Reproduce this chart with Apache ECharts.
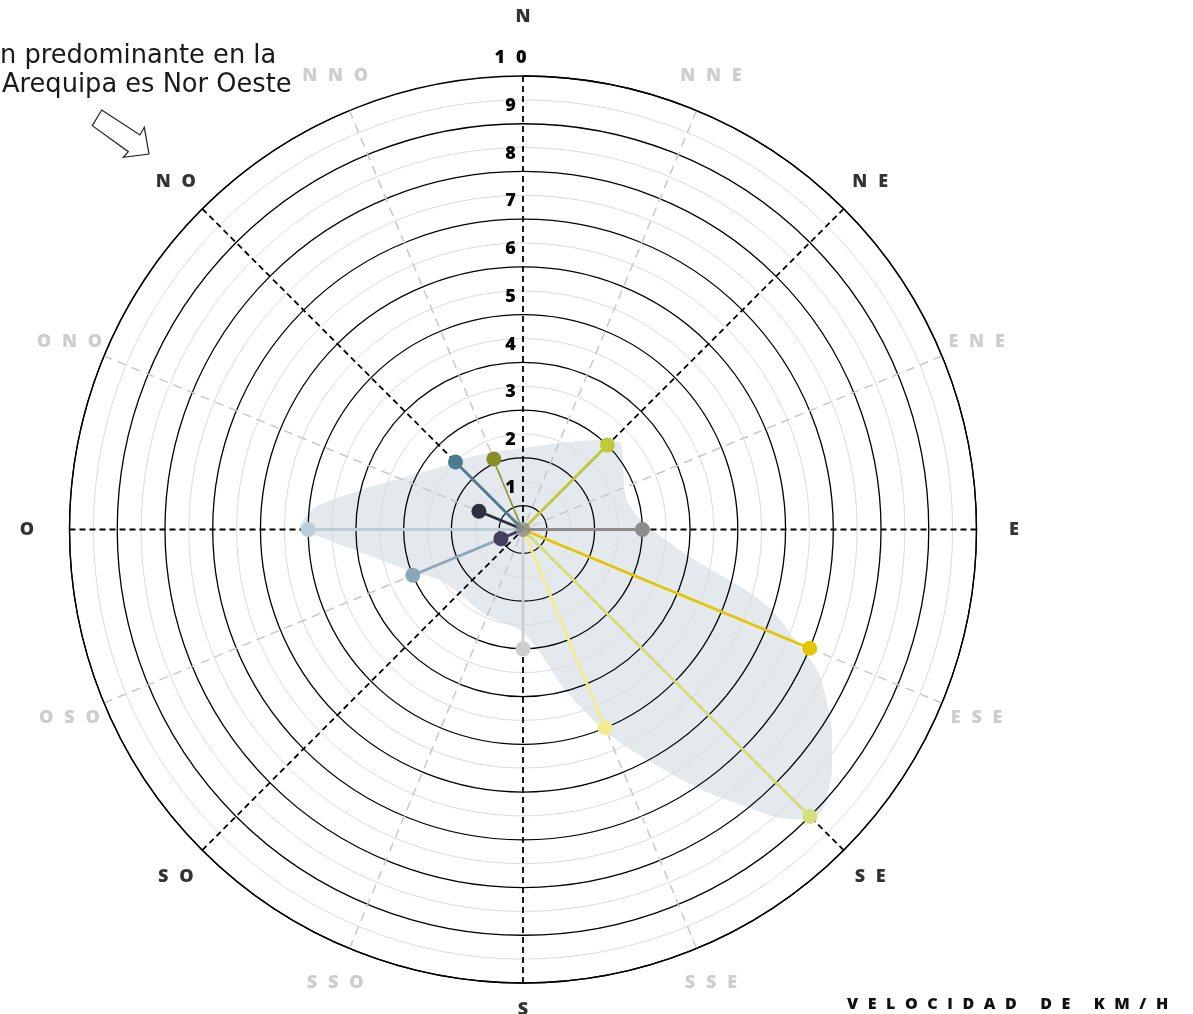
<!DOCTYPE html>
<html>
<head>
<meta charset="utf-8">
<script src="https://cdn.jsdelivr.net/npm/echarts@6/dist/echarts.min.js"></script>
<style>
html,body{margin:0;padding:0;background:#fff;}
#chart{width:1193px;height:1014px;}
</style>
</head>
<body>
<div id="chart"></div>
<script>
// ---------------- DATA ----------------
const directions = ['N','NNE','NE','ENE','E','ESE','SE','SSE','S','SSO','SO','OSO','O','ONO','NO','NNO'];
const mainDirections = ['N','NE','E','SE','S','SO','O','NO'];
const speedRange = [0.5, 10];            // radius axis (km/h)
const speedTicks = [1,2,3,4,5,6,7,8,9,10];

// one ray per measurement: direction + speed (km/h)
const rayDirections = ['NE','E','ESE','SE','SSE','S','OSO','OSO','O','ONO','NO','NNO'];
const raySpeeds     = [3.0, 3.0, 7.0, 9.0, 5.0, 3.0, 3.0, 1.0, 5.0, 1.5, 2.5, 2.1];

// shaded envelope (bearing in degrees clockwise from N, speed km/h)
const blobBearings = [4.9, 28.2, 42.5, 48.3, 55.2, 67.2, 75.3, 83.8, 90.2, 100.7, 105.6, 108.5, 113.0, 115.5,
  119.7, 123.9, 127.9, 130.8, 133.2, 135.2, 137.3, 141.1, 146.0, 151.7, 156.6, 160.3, 165.8, 169.8, 175.0,
  181.7, 194.1, 207.8, 224.3, 238.7, 248.9, 258.0, 264.3, 267.9, 269.9, 275.6, 280.1, 287.6, 296.4, 310.3,
  323.8, 343.7, 364.9];
const blobSpeeds = [2.23, 2.58, 3.04, 3.22, 3.05, 2.80, 2.77, 2.92, 3.20, 4.27, 5.44, 6.07, 6.80, 7.33,
  7.83, 8.30, 8.70, 8.94, 9.09, 9.04, 8.75, 7.97, 7.01, 5.98, 5.24, 4.67, 3.90, 3.34, 2.89,
  2.61, 2.48, 2.43, 2.39, 2.54, 2.97, 3.56, 4.21, 4.75, 5.19, 4.92, 4.39, 3.64, 3.07, 2.59,
  2.38, 2.21, 2.23];

const annotationLines = ['n predominante en la', 'Arequipa es Nor Oeste'];
const axisTitle = 'VELOCIDAD DE KM/H';

// ---------------- STYLE ----------------
const rayColors = ['#BFCB35','#8C8C8C','#E3C500','#D5DF7C','#F6EA91','#CFCDCF',
                   '#8BA8BA','#43405E','#BACDD9','#2B3143','#4E7B90','#878F29'];
const centerColor = '#8C8C8C';
const blobColor = '#E3E9ED';
const FONT = '"Open Sans", sans-serif';
const SEP = '\u2002\u200A';
const spaced = s => s.split('').join(SEP);
const CENTER = [523, 529.5];
const RADIUS = 453.5;
const LABEL_R = 10.785;   // label ring just outside the grid
const labelOffsets = { N: [0, -22], S: [0, -11], O: [-5, 0] };

const series = [];

// shaded envelope on the full-circle polar (value angle axis)
series.push({
  type: 'line', coordinateSystem: 'polar', polarIndex: 1, z: 0,
  smooth: 0.35, symbol: 'none', silent: true,
  lineStyle: { width: 0 },
  areaStyle: { color: blobColor, opacity: 1 },
  data: blobBearings.map((b, i) => [blobSpeeds[i], b])
});

rayDirections.forEach((d, i) => {
  series.push({
    type: 'line', coordinateSystem: 'polar', polarIndex: 0, z: 3,
    symbol: 'circle', symbolSize: 15,
    lineStyle: { color: rayColors[i], width: 2.8 },
    itemStyle: { color: rayColors[i] },
    data: [{ value: [speedRange[0], d], symbol: 'none' }, { value: [raySpeeds[i], d] }]
  });
});

// center marker
series.push({
  type: 'scatter', coordinateSystem: 'polar', polarIndex: 0, z: 4,
  symbolSize: 15, itemStyle: { color: centerColor },
  data: [[speedRange[0], 'N']]
});

// direction labels
series.push({
  type: 'scatter', coordinateSystem: 'polar', polarIndex: 0, z: 4, clip: false, silent: true,
  symbol: 'circle', symbolSize: 1, itemStyle: { color: 'rgba(0,0,0,0)' },
  label: {
    show: true, position: 'inside', fontFamily: FONT, fontWeight: 800, fontSize: 18,
    formatter: p => spaced(p.name)
  },
  data: directions.map(d => ({
    name: d, value: [LABEL_R, d],
    label: { color: mainDirections.includes(d) ? '#000' : '#C0C0C0', offset: labelOffsets[d] || [0, 0] }
  }))
});

const option = {
  animation: false,
  backgroundColor: '#fff',
  polar: [
    { center: CENTER, radius: RADIUS },
    { center: CENTER, radius: RADIUS }
  ],
  angleAxis: [
    {
      // main compass directions: black dashed spokes
      polarIndex: 0, type: 'category', data: directions, startAngle: 90, clockwise: true,
      boundaryGap: false, z: 2,
      axisLine: { show: true, lineStyle: { color: '#000', width: 1.3 } },
      axisTick: { show: false },
      axisLabel: { show: false },
      splitLine: { show: true, lineStyle: { color: ['#000', 'rgba(0,0,0,0)'], width: 1.8, type: [6, 4] } }
    },
    {
      // bearing axis (value 0 at north); its split lines are the grey intermediate spokes
      polarIndex: 1, type: 'value', min: -22.5, max: 337.5, interval: 45, startAngle: 112.5, clockwise: true,
      z: 1,
      axisLine: { show: false }, axisTick: { show: false }, axisLabel: { show: false },
      splitLine: { show: true, lineStyle: { color: '#C8C8C8', width: 1.5, type: [9, 6] } }
    }
  ],
  radiusAxis: [
    {
      // speed labels along the north spoke
      polarIndex: 0, type: 'value', min: speedRange[0], max: speedRange[1],
      minInterval: 1, maxInterval: 1, z: 2,
      axisLine: { show: false }, axisTick: { show: false }, splitLine: { show: false },
      axisLabel: {
        show: true, color: '#000', fontFamily: FONT, fontWeight: 800, fontSize: 18,
        align: 'center', verticalAlign: 'bottom', lineHeight: 36, margin: 12.5,
        formatter: v => speedTicks.includes(v) ? spaced(String(v)) : ''
      }
    },
    {
      // full-circle rings
      polarIndex: 1, type: 'value', min: speedRange[0], max: speedRange[1],
      minInterval: 1, maxInterval: 1, z: 1,
      axisLine: { show: false }, axisTick: { show: false }, axisLabel: { show: false },
      splitLine: { show: true, lineStyle: { color: '#000', width: 1.3 } },
      minorTick: { show: false, splitNumber: 2 },
      minorSplitLine: { show: true, lineStyle: { color: '#DCDCDC', width: 1 } }
    }
  ],
  graphic: [
    { type: 'text', x: 0, y: 56, style: { text: annotationLines[0], fontFamily: '"DejaVu Sans"', fontSize: 25.7, fill: '#1a1a1a', verticalAlign: 'middle', align: 'left' } },
    { type: 'text', x: 2, y: 85, style: { text: annotationLines[1], fontFamily: '"DejaVu Sans"', fontSize: 25.7, fill: '#1a1a1a', verticalAlign: 'middle', align: 'left' } },
    { type: 'polygon', shape: { points: [[101.7,110],[140,135],[144.3,127.3],[149,154],[123.3,157.3],[128.3,151.7],[92.3,125.7]] },
      style: { fill: '#fff', stroke: '#222', lineWidth: 1.2 } },
    { type: 'text', x: 847, y: 1004, style: {
        text: axisTitle.split('').join(SEP),
        fontFamily: FONT, fontWeight: 800, fontSize: 16, fill: '#111', verticalAlign: 'middle', align: 'left' } }
  ],
  series: series
};

const chart = echarts.init(document.getElementById('chart'), null, { renderer: 'canvas' });
chart.setOption(option);
</script>
</body>
</html>
